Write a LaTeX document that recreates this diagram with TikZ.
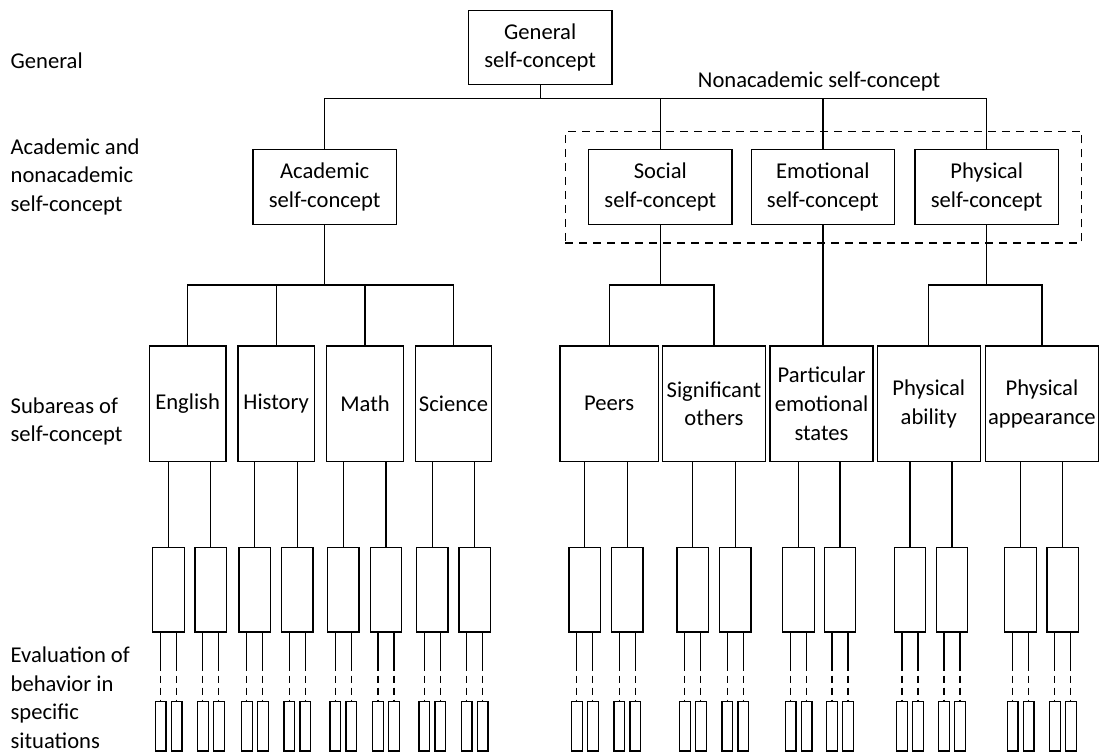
\documentclass[tikz,border=0pt]{standalone}
\usepackage{fontspec}
\setmainfont{Carlito}
\usetikzlibrary{positioning,fit}

\begin{document}
\begin{tikzpicture}[x=0.5pt, y=-0.5pt, line width=0.65pt,
        font=\fontsize{11.3}{14.3}\selectfont,
        concept/.style={rectangle, draw, minimum width=71.7pt, minimum height=37.3pt, inner sep=0pt, align=center},
        subarea/.style={rectangle, draw, minimum height=57.75pt, inner sep=0pt, align=center},
        evalbox/.style={rectangle, draw, minimum width=15.75pt, minimum height=42.25pt, inner sep=0pt},
        sitbox/.style={rectangle, draw, minimum width=5.35pt, minimum height=24.65pt, inner sep=0pt},
        groupbox/.style={draw, dashed, dash pattern=on 4pt off 3pt, inner xsep=11.3pt, inner ysep=9pt},
        sitline/.style={dash pattern=on 3.5pt off 2.5pt},
        level/.style={anchor=base west, align=left, inner xsep=0pt}
    ]
        \useasboundingbox (0,0) rectangle (1101,754);

        % Level labels (base = last line)
        \node[level] (lgen) at (10,69) {General};
        \node[level] (lacad) at (10,211.5) {Academic and\\nonacademic\\self-concept};
        \node[level] (lsub) at (10,441.7) {Subareas of\\self-concept};
        \node[level] (leval) at (10,748.5) {Evaluation of\\behavior in\\specific\\situations};

        % Self-concept blocks
        \node[concept] (gen) at (540.15,47.5) {General\\self-concept};
        \node[concept] (acad) at (324.65,187.15) {Academic\\self-concept};
        \node[concept] (soc) at (660.35,187.15) {Social\\self-concept};
        \node[concept] (emo) at (822.85,187.15) {Emotional\\self-concept};
        \node[concept] (phys) at (986.65,187.15) {Physical\\self-concept};

        % Nonacademic group
        \node[groupbox, fit=(soc)(emo)(phys)] (nonacad) {};
        \node[anchor=base] (nonlabel) at (819,88) {Nonacademic self-concept};

        % Subareas
        \node[subarea, minimum width=38.25pt] (eng) at (187.65,403.75) {English};
        \node[subarea, minimum width=38.25pt] (hist) at (276.15,403.75) {History};
        \node[subarea, minimum width=38.25pt] (math) at (365,403.75) {Math};
        \node[subarea, minimum width=38.25pt] (sci) at (453.5,403.75) {Science};
        \node[subarea, minimum width=49.15pt] (peers) at (609.15,403.75) {Peers};
        \node[subarea, minimum width=51.55pt] (sig) at (713.95,403.75) {Significant\\others};
        \node[subarea, minimum width=51.55pt] (part) at (821.55,403.75) {Particular\\emotional\\states};
        \node[subarea, minimum width=51.55pt] (abil) at (928.75,403.75) {Physical\\ability};
        \node[subarea, minimum width=56.7pt] (appear) at (1041.9,403.75) {Physical\\appearance};

        % Tree lines
        \coordinate (bartop) at (540.15,98.7);
        \coordinate (barsub) at (324.65,285);
        \foreach \c in {acad,soc,emo,phys}
            \draw (gen.south) -- (bartop) -| (\c.north);
        \foreach \c in {eng,hist,math,sci}
            \draw (acad.south) -- (barsub) -| (\c.north);
        \foreach \c in {peers,sig}
            \draw (soc.south) -- (soc.south |- barsub) -| (\c.north);
        \draw (emo.south) -- (emo.south |- part.north);
        \foreach \c in {abil,appear}
            \draw (phys.south) -- (phys.south |- barsub) -| (\c.north);

        % Evaluations in situations
        \foreach \x/\p [count=\i] in {168.5/eng,210.8/eng,254.8/hist,297.2/hist,343.3/math,386/math,432.3/sci,474.7/sci,
                584.8/peers,627.2/peers,692.8/sig,735.2/sig,798.5/part,840/part,910/abil,952/abil,1020.5/appear,1062.8/appear} {
            \node[evalbox] (m\i) at (\x,589.75) {};
            \node[sitbox] (sa\i) at (\x-8,726.3) {};
            \node[sitbox] (sb\i) at (\x+8,726.3) {};
            \draw (m\i.north) -- (m\i.north |- \p.south);
            \draw (sa\i |- m\i.south) -- ++(0,31) coordinate (da\i);
            \draw (sb\i |- m\i.south) -- ++(0,31) coordinate (db\i);
            \draw[sitline] (da\i) -- (sa\i.north);
            \draw[sitline] (db\i) -- (sb\i.north);
        }

    \end{tikzpicture}
\end{document}
